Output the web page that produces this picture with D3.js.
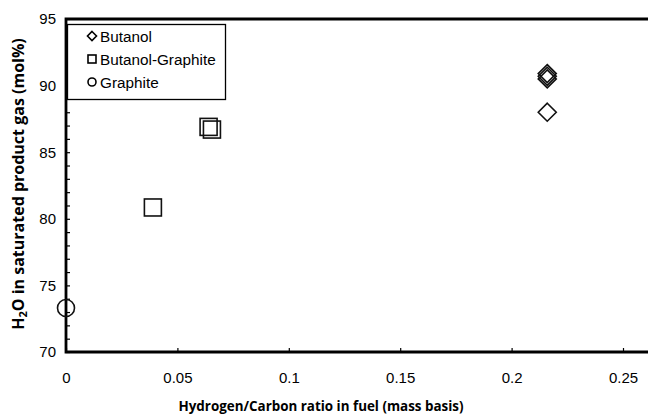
<!DOCTYPE html>
<html>
<head>
<meta charset="utf-8">
<script src="https://cdn.jsdelivr.net/npm/d3@7/dist/d3.min.js"></script>
<style>
	body { margin: 0; background: #fff; }
	svg { display: block; }
	.tick text { font-family: "Liberation Sans", Arial, sans-serif; font-size: 15px; fill: #000; }
</style>
</head>
<body>
<svg id="chart" width="648" height="416"></svg>
<script>
// series
var butanolX = [0.216, 0.216, 0.216, 0.216];
var butanolY = [90.9, 90.7, 90.5, 88.0];
var mixX = [0.039, 0.064, 0.0655];
var mixY = [80.85, 86.9, 86.7];
var graphiteX = [0];
var graphiteY = [73.3];

var xTicks = [0, 0.05, 0.1, 0.15, 0.2, 0.25];
var yTicks = [70, 75, 80, 85, 90, 95];
var legendNames = ["Butanol", "Butanol-Graphite", "Graphite"];

(function(){
	var svg = d3.select("#chart");

	var plotLeft = 66, plotTop = 19, plotBottom = 352;
	var x = d3.scaleLinear().domain([0, 0.3]).range([plotLeft, plotLeft + 0.3 * 2228]);
	var y = d3.scaleLinear().domain([70, 95]).range([plotBottom, plotTop]);

	//	axes, ticks pointing inside
	var xAxis = d3.axisBottom(x).tickValues(xTicks).tickSize(-4).tickPadding(20)
		.tickFormat(function(d){ return String(+d.toFixed(2)); });
	svg.append("g").attr("transform", "translate(0," + plotBottom + ")").call(xAxis)
		.call(function(g){ g.select(".domain").remove(); });

	var yMinor = d3.range(70, 96, 1);
	svg.append("g").attr("transform", "translate(" + plotLeft + ",0)")
		.call(d3.axisLeft(y).tickValues(yMinor).tickSize(-4).tickFormat(""))
		.call(function(g){ g.select(".domain").remove(); });
	svg.append("g").attr("transform", "translate(" + plotLeft + ",0)")
		.call(d3.axisLeft(y).tickValues(yTicks).tickSize(0).tickPadding(10))
		.call(function(g){ g.select(".domain").remove(); });

	svg.selectAll(".tick line").attr("stroke", "#000").attr("stroke-width", 1.2);

	//	frame
	var frameRight = x(0.3);
	svg.append("path")
		.attr("d", "M" + frameRight + "," + plotTop + "H" + plotLeft + "V" + plotBottom + "H" + frameRight)
		.attr("fill", "none").attr("stroke", "#000").attr("stroke-width", 2.8);

	var markers = svg.append("g").attr("fill", "none").attr("stroke", "#111").attr("stroke-width", 1.6);

	//	butanol diamonds
	var d = 9;
	butanolX.forEach(function(v, i){
		var cx = x(v), cy = y(butanolY[i]);
		markers.append("path")
			.attr("d", "M" + cx + "," + (cy - d) + "L" + (cx + d) + "," + cy + "L" + cx + "," + (cy + d) + "L" + (cx - d) + "," + cy + "Z");
	});

	//	butanol-graphite squares
	var s = 8.5;
	mixX.forEach(function(v, i){
		markers.append("rect")
			.attr("x", x(v) - s).attr("y", y(mixY[i]) - s)
			.attr("width", 2 * s).attr("height", 2 * s);
	});

	//	graphite circles
	graphiteX.forEach(function(v, i){
		markers.append("circle").attr("cx", x(v)).attr("cy", y(graphiteY[i])).attr("r", 8.5);
	});

	//	legend
	var legend = svg.append("g");
	legend.append("rect").attr("x", 67.5).attr("y", 24.5).attr("width", 158).attr("height", 75)
		.attr("fill", "#fff").attr("stroke", "#000").attr("stroke-width", 1.3);
	var rowY = [36, 59, 82];
	legendNames.forEach(function(name, i){
		var cx = 92, cy = rowY[i];
		var g = legend.append("g").attr("fill", "none").attr("stroke", "#000").attr("stroke-width", 1.6);
		if(i == 0) {
			g.append("path").attr("d", "M" + cx + "," + (cy - 4.5) + "L" + (cx + 4.5) + "," + cy + "L" + cx + "," + (cy + 4.5) + "L" + (cx - 4.5) + "," + cy + "Z");
		}else if(i == 1) {
			g.append("rect").attr("x", cx - 4).attr("y", cy - 4).attr("width", 8).attr("height", 8);
		}else{
			g.append("circle").attr("cx", cx).attr("cy", cy).attr("r", 4);
		}
		legend.append("text").text(name).attr("x", 100).attr("y", cy + 5.5)
			.attr("style", "font-family:'Liberation Sans', Arial, sans-serif; font-size:15.3px; fill:#000");
	});

	//	axis titles
	svg.append("text").text("Hydrogen/Carbon ratio in fuel (mass basis)")
		.attr("x", 321).attr("y", 411).attr("text-anchor", "middle")
		.attr("style", "font-family:'Open Sans', sans-serif; font-weight:bold; font-size:13.4px; fill:#000");

	var yTitle = svg.append("text").attr("transform", "translate(24,184) rotate(-90)")
		.attr("text-anchor", "middle")
		.attr("style", "font-family:'Open Sans', sans-serif; font-weight:bold; font-size:16px; fill:#000");
	yTitle.append("tspan").text("H");
	yTitle.append("tspan").text("2").attr("font-size", "11px").attr("dy", 3);
	yTitle.append("tspan").text("O in saturated product gas (mol%)").attr("dy", -3);
})();
</script>
</body>
</html>
